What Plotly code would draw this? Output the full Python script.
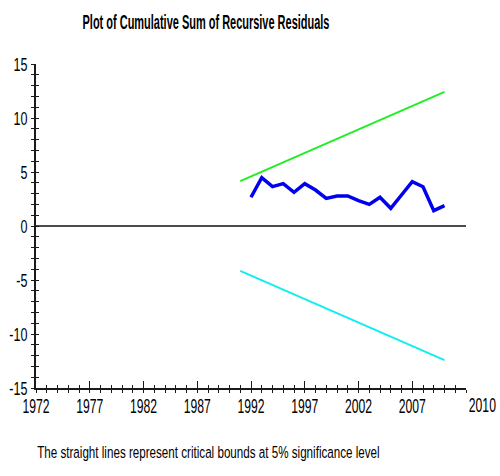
import plotly.graph_objects as go

# CUSUM of recursive residuals, 1992-2010
cusum_years = list(range(1992, 2011))
cusum_values = [2.66, 4.47, 3.64, 3.92, 3.12, 3.92, 3.33, 2.56, 2.78, 2.78,
                2.35, 2.00, 2.66, 1.64, 2.87, 4.10, 3.64, 1.42, 1.88]

# 5% critical bounds (straight lines between end points)
bound_years = [1991, 2010]
upper_bound = [4.15, 12.42]
lower_bound = [-4.15, -12.42]

x_tick_vals = [1972, 1977, 1982, 1987, 1992, 1997, 2002, 2007]
x_tick_text = ["1972", "1977", "1982", "1987", "1992", "1997", "2002", "2007"]
end_label = "2010"
y_tick_vals = [-15, -10, -5, 0, 5, 10, 15]
y_tick_text = ["-15", "-10", "-5", "0", "5", "10", "15"]

x_range = [1972, 2012]
y_range = [-15, 15]

TITLE = "Plot of Cumulative Sum of Recursive Residuals"
NOTE = "The straight lines represent critical bounds at 5% significance level"

FONT = "Liberation Sans, Arial, sans-serif"
AXC = "#1a1a1a"

fig = go.Figure()

# zero line across the plot
fig.add_trace(go.Scatter(x=x_range, y=[0, 0], mode="lines",
                         line=dict(color="#111111", width=1.5),
                         hoverinfo="skip", showlegend=False))
fig.add_trace(go.Scatter(x=bound_years, y=upper_bound, mode="lines",
                         line=dict(color="#22ee22", width=2),
                         showlegend=False))
fig.add_trace(go.Scatter(x=bound_years, y=lower_bound, mode="lines",
                         line=dict(color="#11eeee", width=2),
                         showlegend=False))
fig.add_trace(go.Scatter(x=cusum_years, y=cusum_values, mode="lines",
                         line=dict(color="#0000ee", width=3.5),
                         showlegend=False))

common_x = dict(range=x_range, showgrid=False, zeroline=False, automargin=False,
                showline=True, linecolor=AXC, linewidth=1.5)
common_y = dict(range=y_range, showgrid=False, zeroline=False, automargin=False,
                showline=True, linecolor=AXC, linewidth=1.5)

fig.update_layout(
    template="none",
    width=500, height=476,
    margin=dict(l=36, r=34, t=64, b=88),
    paper_bgcolor="white", plot_bgcolor="white",
    title=dict(text="<b>" + TITLE + "</b>",
               x=206 / 500, xanchor="center", y=1 - 22 / 476, yanchor="middle",
               font=dict(family=FONT, size=20, color="black")),
    xaxis=dict(**common_x, tickmode="array", tickvals=x_tick_vals,
               ticktext=x_tick_text, ticks="outside", ticklen=3,
               tickcolor=AXC, tickwidth=1, ticklabelstandoff=-5,
               tickfont=dict(family=FONT, size=21, color="black"),
               minor=dict(dtick=1, tick0=1972, ticks="outside", ticklen=3,
                          tickcolor=AXC, tickwidth=1)),
    xaxis2=dict(**common_x, overlaying="x", tickmode="array",
                tickvals=x_tick_vals, ticks="inside", ticklen=7,
                tickcolor=AXC, tickwidth=1, showticklabels=False,
                minor=dict(dtick=1, tick0=1972, ticks="inside", ticklen=3,
                           tickcolor=AXC, tickwidth=1)),
    yaxis=dict(**common_y, tickmode="array", tickvals=y_tick_vals,
               ticktext=y_tick_text,
               ticks="outside", ticklen=3, tickcolor=AXC, tickwidth=1,
               tickfont=dict(family=FONT, size=19, color="black"),
               minor=dict(dtick=1, tick0=0, ticks="outside", ticklen=3,
                          tickcolor=AXC, tickwidth=1)),
    yaxis2=dict(**common_y, overlaying="y", tickmode="array",
                tickvals=y_tick_vals, ticks="inside", ticklen=3,
                tickcolor=AXC, tickwidth=1, showticklabels=False,
                minor=dict(dtick=1, tick0=0, ticks="inside", ticklen=3,
                           tickcolor=AXC, tickwidth=1)),
)

# invisible anchor trace so the overlay axes are drawn
fig.add_trace(go.Scatter(x=x_range, y=y_range, xaxis="x2", yaxis="y2",
                         mode="lines", line=dict(width=0), opacity=0,
                         hoverinfo="skip", showlegend=False))

fig.add_annotation(text=end_label, xref="paper", yref="paper",
                   x=(482 - 36) / 430, y=-(404 - 388) / 324,
                   xanchor="center", yanchor="middle", showarrow=False,
                   font=dict(family=FONT, size=21, color="black"))

fig.add_annotation(text=NOTE, xref="paper", yref="paper",
                   x=(208 - 36) / 430, y=-(452 - 388) / 324,
                   xanchor="center", yanchor="middle", showarrow=False,
                   font=dict(family=FONT, size=17, color="black"))

# Condensed lettering: scale every text run horizontally about its anchor
squeeze_js = """
var gd = document.getElementById('{plot_id}');
function squeeze() {
  gd.querySelectorAll('text').forEach(function (t) {
    var tr = t.getAttribute('transform') || '';
    if (tr.indexOf('scale') >= 0) return;
    var w = t.getComputedTextLength();
    if (!w) return;
    var txt = t.textContent;
    var k = 0.58;
    if (t.closest('.ytick')) k = 0.66;
    if (txt.indexOf('%s') === 0) k = 247 / w;
    else if (txt.indexOf('%s') === 0) k = 343 / w;
    var cx = parseFloat(t.getAttribute('x')) || 0;
    t.setAttribute('transform', tr + ' translate(' + cx + ',0) scale(' + k +
                   ',1) translate(' + (-cx) + ',0)');
  });
}
squeeze();
gd.on('plotly_afterplot', squeeze);
""" % (TITLE[:7], NOTE[:12])

fig.write_html("out.html", post_script=squeeze_js)
